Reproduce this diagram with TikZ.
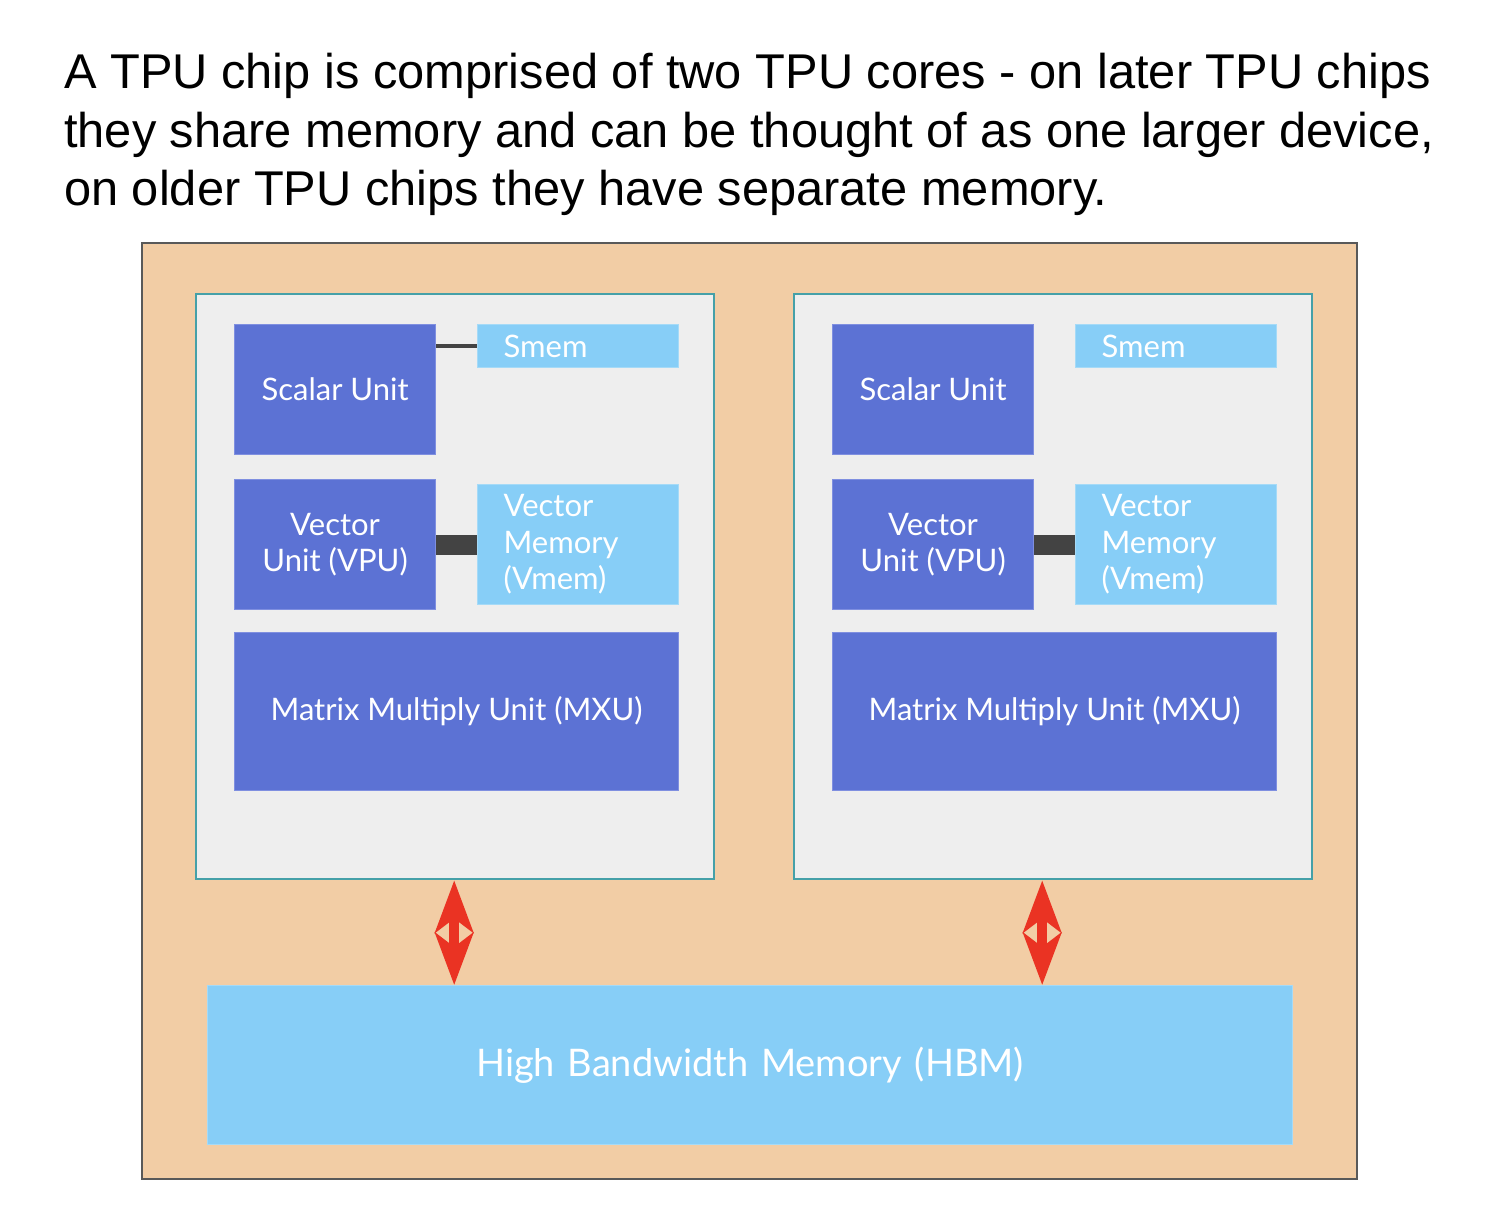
\documentclass[tikz,border=0pt]{standalone}
\usepackage{fontspec}
\setmainfont{Liberation Sans}
\newfontfamily\boxfont{Lato}
\usetikzlibrary{arrows.meta,calc}
\definecolor{chipfill}{HTML}{F2CDA5}
\definecolor{chipline}{HTML}{595959}
\definecolor{corefill}{HTML}{EEEEEE}
\definecolor{coreline}{HTML}{45A0A8}
\definecolor{unitfill}{HTML}{5C72D4}
\definecolor{unitline}{HTML}{7F8FE0}
\definecolor{memfill}{HTML}{87CEF7}
\definecolor{memline}{HTML}{A5DAF7}
\definecolor{linkcol}{HTML}{434343}
\definecolor{arrowred}{HTML}{EA3323}
\tikzset{
  chipbox/.style={draw=chipline, fill=chipfill, line width=2.5pt},
  corebox/.style={draw=coreline, fill=corefill, line width=2.4pt},
  unitbox/.style={draw=unitline, fill=unitfill, line width=1.2pt, inner sep=0pt,
    text=white, font=\boxfont\fontsize{31}{36.5}\selectfont, align=center},
  membox/.style={draw=memline, fill=memfill, line width=1.2pt, inner ysep=0pt, inner xsep=26pt,
    text=white, font=\boxfont\fontsize{31}{36.5}\selectfont, align=left, text width=149pt},
  titletext/.style={anchor=base west, inner sep=0pt, font=\fontsize{48.8}{58.5}\selectfont},
  thinlink/.style={draw=linkcol, line width=4pt},
  thicklink/.style={draw=linkcol, line width=20pt},
  shaft/.style={draw=arrowred, line width=10pt},
  hbmarrow/.style={draw=arrowred, line width=10pt,
    {Stealth[length=52pt,width=38pt,inset=14pt]}-{Stealth[length=52pt,width=38pt,inset=14pt]}},
}
\begin{document}
\begin{tikzpicture}[x=1pt,y=-1pt]
\useasboundingbox (0,0) rectangle (1494,1218);
% title
\node[titletext] (t1) at (64,88) {A TPU chip is comprised of two TPU cores - on later TPU chips};
\node[titletext] (t2) at (64,147) {they share memory and can be thought of as one larger device,};
\node[titletext] (t3) at (64,205) {on older TPU chips they have separate memory.};
% chip
\draw[chipbox] (142,243) rectangle (1357,1179);
% cores
\node[corebox, minimum width=518pt, minimum height=585pt, anchor=north west, inner sep=0pt] (core1) at (195,293) {};
\node[corebox, minimum width=518pt, minimum height=585pt, anchor=north west, inner sep=0pt] (core2) at (793,293) {};
% left core units
\node[unitbox, minimum width=201pt, minimum height=130pt, anchor=north west] (su1) at (234,324) {Scalar Unit};
\node[membox, minimum height=43pt, anchor=north west] (sm1) at (477,324) {Smem};
\node[unitbox, minimum width=201pt, minimum height=130pt, anchor=north west] (vu1) at (234,479) {Vector\\Unit (VPU)};
\node[membox, minimum height=120pt, anchor=north west] (vm1) at (477,484) {Vector\\Memory\\(Vmem)};
\node[unitbox, minimum width=444pt, minimum height=158pt, anchor=north west] (mxu1) at (234,632) {Matrix Multiply Unit (MXU)};
% right core units
\node[unitbox, minimum width=201pt, minimum height=130pt, anchor=north west] (su2) at (832,324) {Scalar Unit};
\node[membox, minimum height=43pt, anchor=north west] (sm2) at (1075,324) {Smem};
\node[unitbox, minimum width=201pt, minimum height=130pt, anchor=north west] (vu2) at (832,479) {Vector\\Unit (VPU)};
\node[membox, minimum height=120pt, anchor=north west] (vm2) at (1075,484) {Vector\\Memory\\(Vmem)};
\node[unitbox, minimum width=444pt, minimum height=158pt, anchor=north west] (mxu2) at (832,632) {Matrix Multiply Unit (MXU)};
% HBM
\node[membox, text width=1085pt, inner xsep=0pt, minimum height=159pt, align=center, anchor=north west,
  font=\boxfont\fontsize{38}{44}\selectfont] (hbm) at (207,985) {High Bandwidth Memory (HBM)};
% links
\draw[thinlink] (su1.east |- sm1.west) -- (sm1.west);
\draw[thicklink] (vu1.east |- vm1.west) -- (vm1.west);
\draw[thicklink] (vu2.east |- vm2.west) -- (vm2.west);
% arrows
\coordinate (a1) at ($(core1.south)+(-1,0)$);
\coordinate (a2) at ($(core2.south)+(-11,0)$);
\draw[shaft] ($(a1)+(0,30)$) -- ($(a1 |- hbm.north)+(0,-30)$);
\draw[shaft] ($(a2)+(0,30)$) -- ($(a2 |- hbm.north)+(0,-30)$);
\draw[hbmarrow] (a1) -- (a1 |- hbm.north);
\draw[hbmarrow] (a2) -- (a2 |- hbm.north);
\end{tikzpicture}
\end{document}
